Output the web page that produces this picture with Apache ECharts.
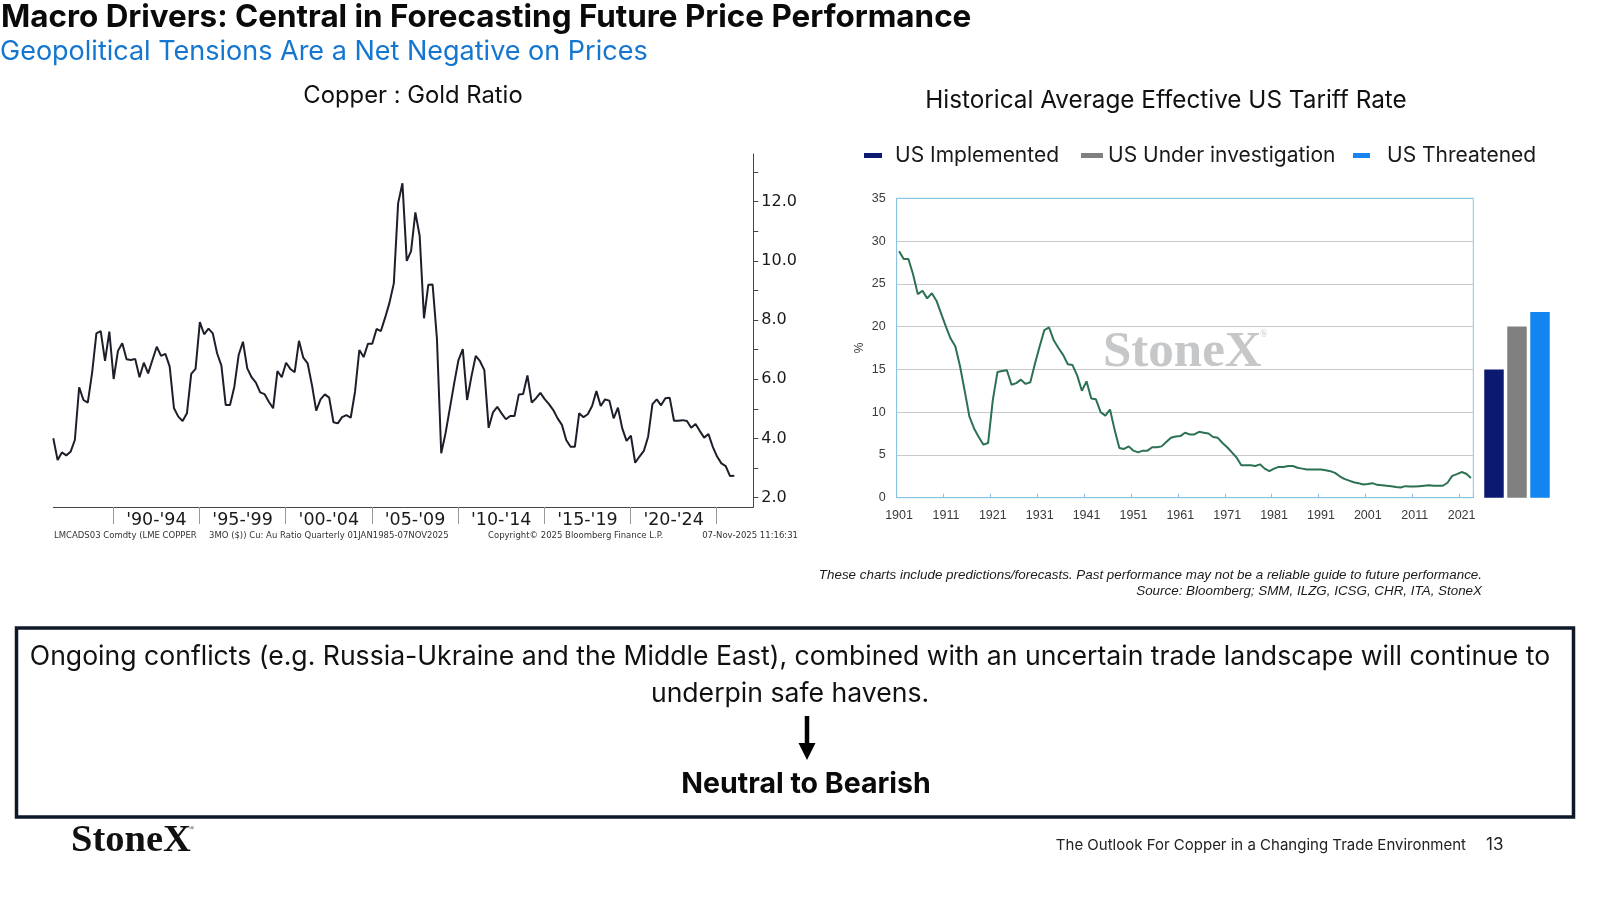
<!DOCTYPE html>
<html><head><meta charset="utf-8">
<script src="https://cdn.jsdelivr.net/npm/echarts@6/dist/echarts.min.js"></script>
<style>html,body{margin:0;padding:0;background:#fff}#c{width:1600px;height:900px}</style>
</head><body><div id="c"></div>
<script>
// ---------- DATA ----------
// Copper : Gold ratio, quarterly, first plotted quarter (decimal year)
const cuAuStart = 1986.52;
const cuAuRatio = [
 4.01,3.27,3.53,3.43,3.55,3.95,5.73,5.30,5.21,6.22,7.55,7.63,6.62,7.61,
 6.01,6.96,7.22,6.68,6.65,6.69,6.07,6.56,6.20,6.65,7.10,6.79,6.86,6.43,5.02,4.74,
 4.59,4.85,6.18,6.35,7.93,7.52,7.71,7.55,6.88,6.46,5.13,5.13,5.75,6.82,7.27,6.37,
 6.07,5.89,5.56,5.50,5.24,5.02,6.28,6.07,6.56,6.35,6.24,7.30,6.73,6.54,5.81,4.94,
 5.32,5.49,5.38,4.55,4.51,4.72,4.79,4.70,5.58,6.99,6.75,7.20,7.20,7.70,7.63,8.09,
 8.59,9.24,11.95,12.62,10.00,10.33,11.64,10.84,8.06,9.19,9.20,7.38,3.50,4.18,5.02,5.86,
 6.65,7.02,5.30,6.09,6.79,6.61,6.31,4.36,4.88,5.07,4.85,4.65,4.76,4.76,5.49,5.50,
 6.13,5.21,5.36,5.54,5.33,5.16,4.96,4.68,4.46,3.95,3.72,3.72,4.85,4.72,4.82,5.10,
 5.60,5.10,5.32,5.28,4.68,5.04,4.34,3.92,4.10,3.18,3.39,3.58,4.06,5.16,5.32,5.12,
 5.36,5.38,4.60,4.60,4.62,4.59,4.36,4.49,4.25,4.03,4.15,3.72,3.39,3.16,3.07,2.73,2.74
];
const periodTicks = [1990,1995,2000,2005,2010,2015,2020,2025];
const periodMids = [1992.5,1997.5,2002.5,2007.5,2012.5,2017.5,2022.5];
const periodLabels = ["'90-'94","'95-'99","'00-'04","'05-'09","'10-'14","'15-'19","'20-'24"];
const ratioTicks = [2,3,4,5,6,7,8,9,10,11,12,13];
const ratioLabels = [2,4,6,8,10,12];

// Historical average effective US tariff rate (%), annual 1901-2023
const tariffFirstYear = 1901, tariffLastYear = 2023;
const tariffRate = [
 28.8,27.9,27.9,26.1,23.8,24.2,23.3,23.9,23.0,21.5,
 20.0,18.6,17.7,15.4,12.5,9.5,8.1,7.1,6.2,6.4,
 11.4,14.7,14.8,14.9,13.2,13.4,13.8,13.3,13.5,15.7,
 17.7,19.6,19.9,18.4,17.5,16.7,15.6,15.5,14.3,12.5,
 13.6,11.6,11.5,10.0,9.6,10.3,7.9,5.8,5.7,6.0,
 5.5,5.3,5.5,5.5,5.9,5.9,6.0,6.5,7.0,7.15,
 7.2,7.6,7.4,7.4,7.7,7.6,7.5,7.1,7.0,6.4,
 5.9,5.3,4.7,3.8,3.8,3.8,3.7,3.9,3.4,3.1,
 3.4,3.6,3.6,3.7,3.7,3.5,3.4,3.3,3.3,3.3,
 3.3,3.2,3.1,2.9,2.5,2.2,2.0,1.8,1.7,1.55,
 1.6,1.7,1.5,1.45,1.4,1.35,1.25,1.2,1.35,1.3,
 1.3,1.35,1.4,1.45,1.4,1.4,1.4,1.75,2.55,2.75,
 3.0,2.8,2.3
];
const tariffTicks = [0,5,10,15,20,25,30,35];
const scenarioNames = ['US Implemented','US Under investigation','US Threatened'];
const scenarioRates = [15.0, 20.0, 21.7];
const scenarioColors = ['#0c1970','#808080','#1484f0'];

// ---------- BUILD ----------
const tariffYears = [];
for (let y = tariffFirstYear; y <= tariffLastYear; y++) tariffYears.push(String(y));
const cuAuSeries = cuAuRatio.map((v, i) => [cuAuStart + i * 0.25, v]);

const SANS = 'Inter, "Noto Sans", sans-serif';
const chart = echarts.init(document.getElementById('c'), null, {renderer: 'canvas'});

function txt(x, y, text, o) {
  o = o || {};
  return {
    type: 'text', x: x, y: y, silent: true, z: o.z || 10,
    style: {
      text: text, fill: o.color || '#111',
      fontSize: o.size || 16, fontFamily: o.family || SANS,
      fontWeight: o.weight || 'normal', fontStyle: o.style || 'normal',
      align: o.align || 'left', verticalAlign: o.valign || 'middle',
      textAlign: o.align || 'left', textVerticalAlign: o.valign || 'middle'
    }
  };
}

const scenarioSeries = scenarioNames.map((n, i) => ({
  name: n, type: 'bar', xAxisIndex: 2, yAxisIndex: 2,
  data: [scenarioRates[i]], barWidth: 19.5, barGap: '18%',
  itemStyle: {color: scenarioColors[i]}, silent: true
}));

const legendPos = [
  {left: 864, w: 18, pad: 8},
  {left: 1081, w: 22, pad: 0},
  {left: 1353, w: 17, pad: 12}
];

const option = {
  backgroundColor: '#ffffff',
  animation: false,
  legend: scenarioNames.map((n, i) => ({
    data: [n], left: legendPos[i].left, top: 145, padding: 0, icon: 'rect',
    itemWidth: legendPos[i].w, itemHeight: 5, selectedMode: false,
    textStyle: {fontFamily: SANS, fontSize: 21, color: '#1a1a1a', padding: [0, 0, 0, legendPos[i].pad]}
  })),
  grid: [
    {left: 53.3, top: 154, width: 700, height: 353, containLabel: false},
    {left: 896.7, top: 198.3, width: 576.6, height: 299.4, show: true, borderColor: '#8cc2e6', borderWidth: 1},
    {left: 1484, top: 198.3, width: 66, height: 299.4}
  ],
  xAxis: [
    {
      gridIndex: 0, type: 'value', min: 1986.52, max: 2027.12,
      axisLine: {show: true, lineStyle: {color: '#444', width: 1}},
      axisTick: {show: true, customValues: periodTicks, length: 17, lineStyle: {color: '#999'}},
      axisLabel: {
        customValues: periodMids, margin: 4, fontFamily: '"DejaVu Sans", Verdana, sans-serif',
        fontSize: 17.5, color: '#1a1a1a',
        formatter: v => periodLabels[periodMids.indexOf(v)] || ''
      },
      splitLine: {show: false}
    },
    {
      gridIndex: 1, type: 'category', data: tariffYears, boundaryGap: true,
      axisLine: {show: true, lineStyle: {color: '#8cc2e6'}},
      axisTick: {show: true, inside: true, length: 4, interval: 9, lineStyle: {color: '#8cc2e6'}},
      axisLabel: {interval: 9, margin: 11, fontFamily: '"Liberation Sans", Arial, sans-serif', fontSize: 12.5, color: '#3a3a3a'},
      splitLine: {show: false}
    },
    {gridIndex: 2, type: 'category', data: [''], show: false}
  ],
  yAxis: [
    {
      gridIndex: 0, type: 'value', position: 'right', min: 1.686, max: 13.61,
      axisLine: {show: true, lineStyle: {color: '#444', width: 1}},
      axisTick: {show: true, customValues: ratioTicks, length: 5, lineStyle: {color: '#444'}},
      axisLabel: {
        customValues: ratioLabels, margin: 8, fontFamily: '"DejaVu Sans", Verdana, sans-serif',
        fontSize: 16, color: '#1a1a1a', formatter: v => v.toFixed(1)
      },
      splitLine: {show: false}
    },
    {
      gridIndex: 1, type: 'value', min: 0, max: 35, interval: 5,
      name: '%', nameLocation: 'middle', nameGap: 31, nameRotate: 90,
      nameTextStyle: {fontFamily: '"Liberation Sans", Arial, sans-serif', fontSize: 12, color: '#3a3a3a'},
      axisLine: {show: true, lineStyle: {color: '#8cc2e6'}},
      axisTick: {show: false},
      axisLabel: {margin: 11, fontFamily: '"Liberation Sans", Arial, sans-serif', fontSize: 12.5, color: '#3a3a3a'},
      splitLine: {show: true, lineStyle: {color: ['#8cc2e6','#c9c9c9','#c9c9c9','#c9c9c9','#c9c9c9','#c9c9c9','#c9c9c9','#8cc2e6'], width: 1.2}}
    },
    {gridIndex: 2, type: 'value', min: 0, max: 35, show: false}
  ],
  series: [
    {
      name: 'Copper : Gold Ratio', type: 'line', xAxisIndex: 0, yAxisIndex: 0,
      data: cuAuSeries, showSymbol: false, symbol: 'none', silent: true,
      lineStyle: {color: '#1c1f29', width: 2}
    },
    {
      name: 'Effective US Tariff Rate', type: 'line', xAxisIndex: 1, yAxisIndex: 1,
      data: tariffRate, showSymbol: false, symbol: 'none', silent: true,
      lineStyle: {color: '#2b7152', width: 2}
    }
  ].concat(scenarioSeries),
  graphic: {elements: [
    txt(1, 18, 'Macro Drivers: Central in Forecasting Future Price Performance', {size: 31.4, weight: 'bold', color: '#0a0a0a'}),
    txt(0, 52, 'Geopolitical Tensions Are a Net Negative on Prices', {size: 27, color: '#1476cf'}),
    txt(413, 96, 'Copper : Gold Ratio', {size: 23.8, align: 'center', color: '#111'}),
    txt(1166, 101, 'Historical Average Effective US Tariff Rate', {size: 24.3, align: 'center', color: '#111'}),
    // watermark
    txt(1103, 353, 'StoneX', {size: 51, family: '"Liberation Serif", "DejaVu Serif", serif', weight: 'bold', color: '#c6c7c9', z: 1}),
    txt(1260, 334, '®', {size: 10, family: '"Liberation Serif", serif', color: '#c6c7c9', z: 1}),
    // bloomberg footer
    txt(54, 536, 'LMCADS03 Comdty (LME COPPER', {size: 8.5, family: '"DejaVu Sans", sans-serif', color: '#333'}),
    txt(209, 536, '3MO ($)) Cu: Au Ratio Quarterly 01JAN1985-07NOV2025', {size: 8.5, family: '"DejaVu Sans", sans-serif', color: '#333'}),
    txt(488, 536, 'Copyright\u00a9 2025 Bloomberg Finance L.P.', {size: 8.5, family: '"DejaVu Sans", sans-serif', color: '#333'}),
    txt(798, 536, '07-Nov-2025 11:16:31', {size: 8.5, family: '"DejaVu Sans", sans-serif', color: '#333', align: 'right'}),
    // disclaimers
    txt(1482, 575, 'These charts include predictions/forecasts. Past performance may not be a reliable guide to future performance.', {size: 13.4, style: 'italic', family: '"Liberation Sans", Arial, sans-serif', color: '#1a1a1a', align: 'right'}),
    txt(1482, 591, 'Source: Bloomberg; SMM, ILZG, ICSG, CHR, ITA, StoneX', {size: 13.4, style: 'italic', family: '"Liberation Sans", Arial, sans-serif', color: '#1a1a1a', align: 'right'}),
    // conclusion box
    {type: 'rect', shape: {x: 16.5, y: 628, width: 1557, height: 189}, style: {fill: 'none', stroke: '#0e1828', lineWidth: 3.5}, silent: true},
    txt(790, 657, 'Ongoing conflicts (e.g. Russia-Ukraine and the Middle East), combined with an uncertain trade landscape will continue to', {size: 26.6, align: 'center', color: '#111'}),
    txt(790, 694, 'underpin safe havens.', {size: 26.6, align: 'center', color: '#111'}),
    {type: 'line', shape: {x1: 807, y1: 716, x2: 807, y2: 746}, style: {stroke: '#000', lineWidth: 4.5}, silent: true},
    {type: 'polygon', shape: {points: [[798.5, 743], [815.5, 743], [807, 760]]}, style: {fill: '#000'}, silent: true},
    txt(806, 784, 'Neutral to Bearish', {size: 28.5, weight: 'bold', align: 'center', color: '#0a0a0a'}),
    // slide footer
    txt(71, 841, 'StoneX', {size: 38.5, family: '"Liberation Serif", "DejaVu Serif", serif', weight: 'bold', color: '#111'}),
    txt(189, 828, '®', {size: 7, family: '"Liberation Serif", serif', color: '#111'}),
    txt(1466, 845, 'The Outlook For Copper in a Changing Trade Environment', {size: 15, align: 'right', color: '#222'}),
    txt(1486, 845, '13', {size: 17, color: '#222'})
  ]}
};
chart.setOption(option);
</script></body></html>
